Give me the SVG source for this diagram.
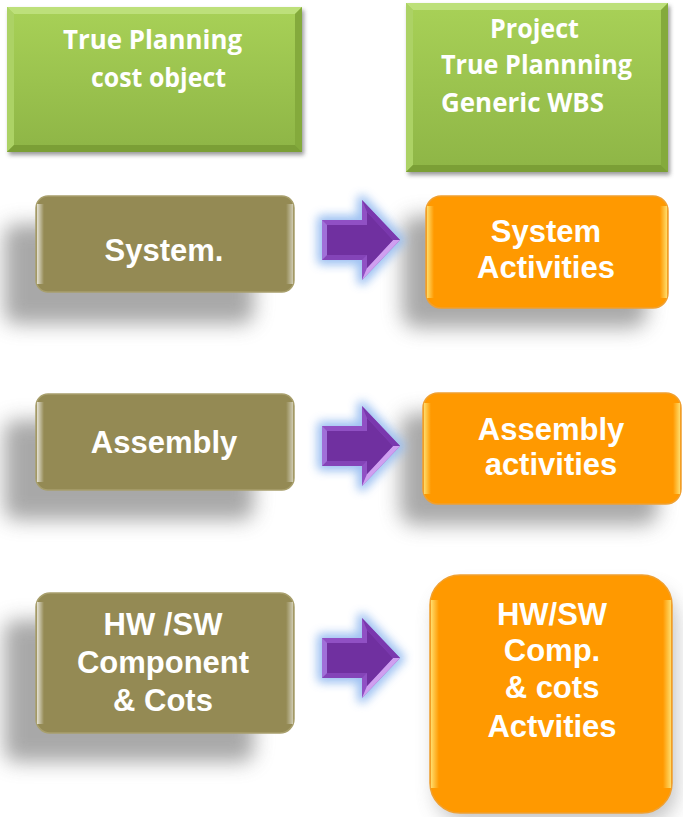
<svg xmlns="http://www.w3.org/2000/svg" width="683" height="817" viewBox="0 0 683 817">
  <defs>
    <linearGradient id="gGreen" x1="0" y1="0" x2="0" y2="1">
      <stop offset="0" stop-color="#a8d157"/>
      <stop offset="1" stop-color="#8eb546"/>
    </linearGradient>
    <linearGradient id="gEdgeL" x1="0" y1="0" x2="1" y2="0">
      <stop offset="0" stop-color="#ffffff" stop-opacity="0.75"/>
      <stop offset="1" stop-color="#ffffff" stop-opacity="0"/>
    </linearGradient>
    <linearGradient id="gEdgeR" x1="1" y1="0" x2="0" y2="0">
      <stop offset="0" stop-color="#ffffff" stop-opacity="0.55"/>
      <stop offset="1" stop-color="#ffffff" stop-opacity="0"/>
    </linearGradient>
    <linearGradient id="gEdgeLO" x1="0" y1="0" x2="1" y2="0">
      <stop offset="0" stop-color="#ffe070" stop-opacity="0.95"/>
      <stop offset="1" stop-color="#ffe070" stop-opacity="0"/>
    </linearGradient>
    <linearGradient id="gEdgeRO" x1="1" y1="0" x2="0" y2="0">
      <stop offset="0" stop-color="#ffe070" stop-opacity="0.95"/>
      <stop offset="1" stop-color="#ffe070" stop-opacity="0"/>
    </linearGradient>
    <filter id="fShadow" x="-30%" y="-30%" width="160%" height="160%">
      <feGaussianBlur stdDeviation="10"/>
    </filter>
    <filter id="fSmall" x="-10%" y="-10%" width="120%" height="120%">
      <feGaussianBlur stdDeviation="2"/>
    </filter>
    <filter id="fGlow" x="-40%" y="-40%" width="180%" height="180%">
      <feGaussianBlur stdDeviation="5"/>
    </filter>
    <g id="arrow">
      <path d="M-78,-20 H-38 V-40 L0,0 L-38,40 V20 H-78 Z" fill="#8fb8f0" stroke="#8fb8f0" stroke-width="10" stroke-linejoin="round" filter="url(#fGlow)" opacity="0.85"/>
      <path d="M-78,-20 H-38 V-40 L0,0 L-38,40 V20 H-78 Z" fill="#9050c4"/>
      <polygon points="-38,40 0,0 -7,0 -33,28" fill="#cf9ff0"/>
      <polygon points="-78,20 -38,20 -33,15 -73,15" fill="#8444b8"/>
      <polygon points="-78,-20 -73,-15 -73,15 -78,20" fill="#a070d8"/>
      <polygon points="-38,-40 -33,-28 -7,0 0,0" fill="#7a38ae"/>
      <path d="M-73,-15 H-33 V-28 L-7,0 L-33,28 V15 H-73 Z" fill="#7030a0"/>
    </g>
  </defs>
  <style>
    .hdr { font-family: "Open Sans", "Liberation Sans", sans-serif; font-weight: bold; font-size: 27px; fill: #ffffff; }
    .lbl { font-family: "Liberation Sans", Arial, sans-serif; font-weight: bold; font-size: 31px; fill: #ffffff; text-anchor: middle; }
    .brown { fill: #948a54; stroke: #a89f6c; stroke-width: 1.5; }
    .orange { fill: #ff9900; stroke: #f0a030; stroke-width: 1.5; }
    .shadow { fill: #707070; opacity: 0.6; }
  </style>

  <!-- Header 1 -->
  <g id="hdr-cost-object">
    <rect x="9" y="10" width="295" height="145" fill="#555" opacity="0.6" filter="url(#fSmall)"/>
    <rect x="7" y="7" width="295" height="145" fill="url(#gGreen)"/>
    <polygon points="7,7 302,7 295,14 14,14" fill="#bde07a"/>
    <polygon points="7,7 14,14 14,145 7,152" fill="#acd265"/>
    <polygon points="302,7 302,152 295,145 295,14" fill="#84aa3c"/>
    <polygon points="7,152 302,152 295,145 14,145" fill="#7b9f36"/>
    <text class="hdr" x="63" y="49" textLength="179" lengthAdjust="spacingAndGlyphs">True Planning</text>
    <text class="hdr" x="91" y="87" textLength="135" lengthAdjust="spacingAndGlyphs">cost object</text>
  </g>

  <!-- Header 2 -->
  <g id="hdr-generic-wbs">
    <rect x="408" y="6" width="262" height="169" fill="#555" opacity="0.6" filter="url(#fSmall)"/>
    <rect x="406" y="3" width="262" height="169" fill="url(#gGreen)"/>
    <polygon points="406,3 668,3 661,10 413,10" fill="#bde07a"/>
    <polygon points="406,3 413,10 413,165 406,172" fill="#acd265"/>
    <polygon points="668,3 668,172 661,165 661,10" fill="#84aa3c"/>
    <polygon points="406,172 668,172 661,165 413,165" fill="#7b9f36"/>
    <text class="hdr" x="490" y="38" textLength="89" lengthAdjust="spacingAndGlyphs">Project</text>
    <text class="hdr" x="441" y="74" textLength="191" lengthAdjust="spacingAndGlyphs">True Plannning</text>
    <text class="hdr" x="441" y="112" textLength="163" lengthAdjust="spacingAndGlyphs">Generic WBS</text>
  </g>

  <!-- Shadows -->
  <g id="shadows">
    <rect class="shadow" x="4" y="224" width="250" height="100" rx="12" filter="url(#fShadow)"/>
    <rect class="shadow" x="4" y="420" width="250" height="100" rx="12" filter="url(#fShadow)"/>
    <rect class="shadow" x="4" y="620" width="250" height="142" rx="12" filter="url(#fShadow)"/>
    <rect class="shadow" x="402" y="216" width="245" height="112" rx="15" filter="url(#fShadow)"/>
    <rect class="shadow" x="400" y="413" width="258" height="112" rx="15" filter="url(#fShadow)"/>
  </g>

  <!-- Left nodes -->
  <g id="node-system">
    <rect class="brown" x="36" y="196" width="258" height="96" rx="12"/>
    <rect x="37" y="204" width="7" height="80" fill="url(#gEdgeL)"/>
    <rect x="286" y="204" width="7" height="80" fill="url(#gEdgeR)"/>
    <text class="lbl" x="164" y="261">System.</text>
  </g>
  <g id="node-assembly">
    <rect class="brown" x="36" y="394" width="258" height="96" rx="12"/>
    <rect x="37" y="402" width="7" height="80" fill="url(#gEdgeL)"/>
    <rect x="286" y="402" width="7" height="80" fill="url(#gEdgeR)"/>
    <text class="lbl" x="164" y="453">Assembly</text>
  </g>
  <g id="node-hwsw">
    <rect class="brown" x="36" y="593" width="258" height="140" rx="14"/>
    <rect x="37" y="602" width="7" height="122" fill="url(#gEdgeL)"/>
    <rect x="286" y="602" width="7" height="122" fill="url(#gEdgeR)"/>
    <text class="lbl" x="163" y="635">HW /SW</text>
    <text class="lbl" x="163" y="673">Component</text>
    <text class="lbl" x="163" y="711">&amp; Cots</text>
  </g>

  <!-- Right nodes -->
  <g id="node-system-activities">
    <rect class="orange" x="426" y="196" width="242" height="112" rx="15"/>
    <rect x="427" y="206" width="7" height="92" fill="url(#gEdgeLO)"/>
    <rect x="660" y="206" width="7" height="92" fill="url(#gEdgeRO)"/>
    <text class="lbl" x="546" y="242">System</text>
    <text class="lbl" x="546" y="278">Activities</text>
  </g>
  <g id="node-assembly-activities">
    <rect class="orange" x="423" y="393" width="258" height="111" rx="15"/>
    <rect x="424" y="403" width="7" height="91" fill="url(#gEdgeLO)"/>
    <rect x="673" y="403" width="7" height="91" fill="url(#gEdgeRO)"/>
    <text class="lbl" x="551" y="440">Assembly</text>
    <text class="lbl" x="551" y="475">activities</text>
  </g>
  <g id="node-hwsw-activities">
    <rect x="436" y="590" width="240" height="232" rx="30" fill="#777" opacity="0.45" filter="url(#fShadow)"/>
    <rect class="orange" x="430" y="575" width="242" height="238" rx="30"/>
    <rect x="431" y="600" width="8" height="188" fill="url(#gEdgeLO)"/>
    <rect x="663" y="600" width="8" height="188" fill="url(#gEdgeRO)"/>
    <text class="lbl" x="552" y="625">HW/SW</text>
    <text class="lbl" x="552" y="661">Comp.</text>
    <text class="lbl" x="552" y="698">&amp; cots</text>
    <text class="lbl" x="552" y="737">Actvities</text>
  </g>

  <!-- Connectors -->
  <g id="connectors">
    <use href="#arrow" x="400" y="240"/>
    <use href="#arrow" x="400" y="446"/>
    <use href="#arrow" x="400" y="658"/>
  </g>
</svg>
